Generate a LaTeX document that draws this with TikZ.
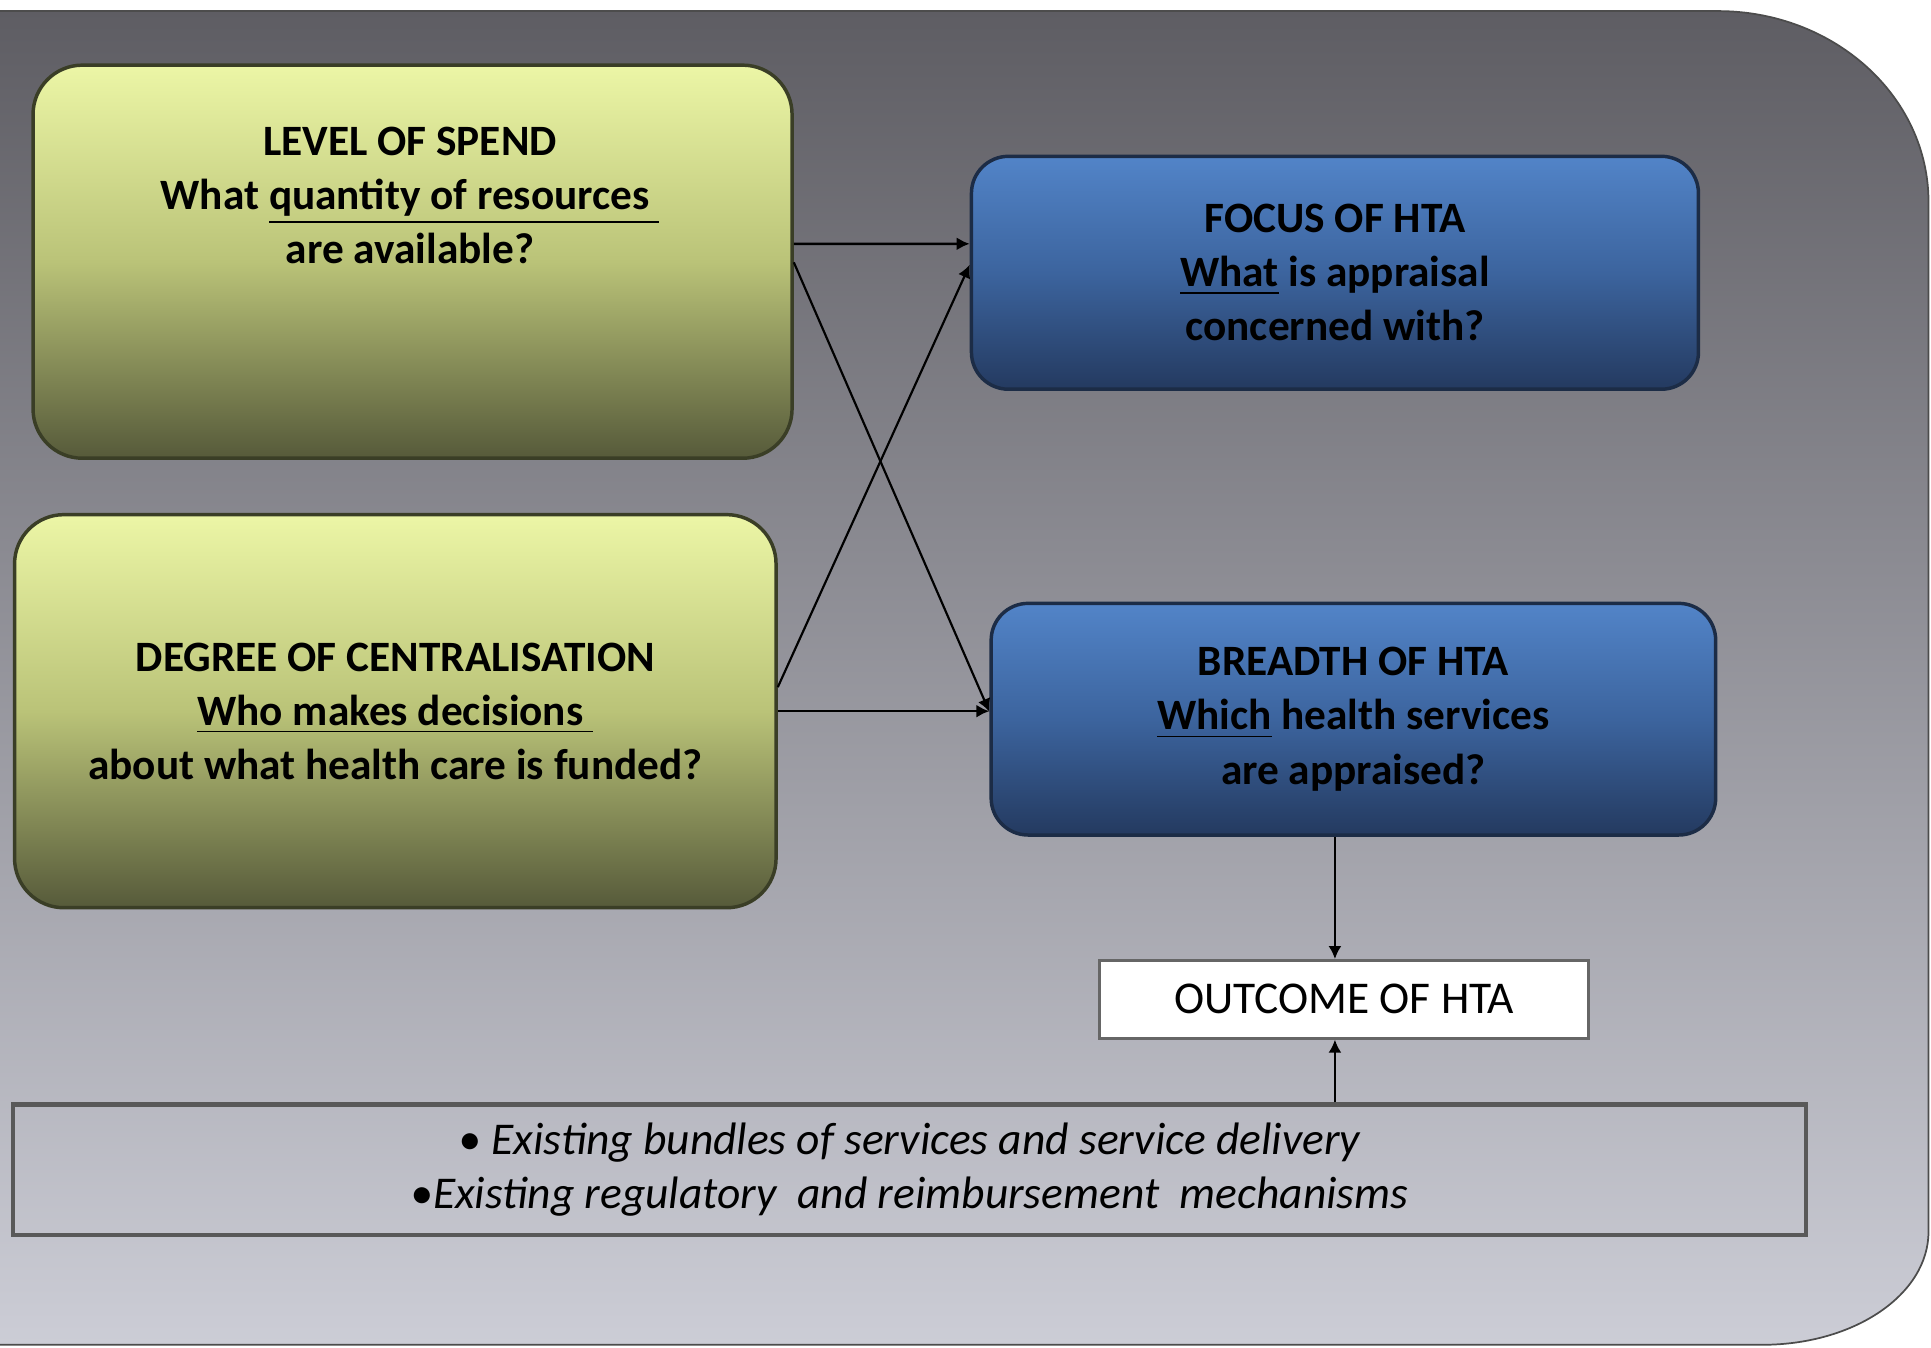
\documentclass[tikz,border=0pt]{standalone}
\usepackage{fontspec}
\setmainfont{Carlito}
\usetikzlibrary{arrows.meta}
\definecolor{bgtop}{RGB}{94,93,99}
\definecolor{bgbottom}{RGB}{204,205,214}
\definecolor{greentop}{RGB}{236,246,166}
\definecolor{greenmid}{RGB}{186,195,120}
\definecolor{greenbot}{RGB}{86,90,58}
\definecolor{greenline}{RGB}{58,62,38}
\definecolor{bluetop}{RGB}{82,132,200}
\definecolor{bluemid}{RGB}{60,100,158}
\definecolor{bluebot}{RGB}{36,58,96}
\definecolor{blueline}{RGB}{28,44,70}
\begin{document}
\begin{tikzpicture}[
			x=0.01cm, y=-0.01cm,
			greenbox/.style={draw=greenline, line width=0.8pt, rounded corners=0.4cm,
				top color=greentop, bottom color=greenbot, middle color=greenmid},
			bluebox/.style={draw=blueline, line width=0.8pt, rounded corners=0.3cm,
				top color=bluetop, bottom color=bluebot, middle color=bluemid},
			boxtext/.style={align=center, font=\fontsize{10}{12.5}\selectfont\bfseries},
			arr/.style={-{Latex[length=3pt,width=3pt]}, line width=0.6pt, black}
		]
		\useasboundingbox (0,0) rectangle (1568,1094);
		\fill[top color=bgtop, bottom color=bgbottom] (-50,9) -- (1395,9)
			.. controls (1489,9) and (1566,78) .. (1566,164) -- (1566,1000)
			.. controls (1566,1051) and (1506,1092) .. (1431,1092) -- (-50,1092) -- cycle;
		\draw[black!70, line width=0.4pt] (-50,9) -- (1395,9)
			.. controls (1489,9) and (1566,78) .. (1566,164) -- (1566,1000)
			.. controls (1566,1051) and (1506,1092) .. (1431,1092) -- (-50,1092);

		\node[greenbox, minimum width=6.16cm, minimum height=3.19cm] (spend) at (335,212.5) {};
		\node[boxtext] (spendtext) at (333,158.5) {LEVEL OF SPEND\\What \underline{quantity of resources\ }\\are available?};
		\node[greenbox, boxtext, minimum width=6.18cm, minimum height=3.19cm] (central) at (321,577.5)
			{DEGREE OF CENTRALISATION\\\underline{Who makes decisions\ }\\about what health care is funded?};
		\node[bluebox, boxtext, minimum width=5.9cm, minimum height=1.89cm] (focus) at (1084,221.5)
			{FOCUS OF HTA\\\underline{What} is appraisal\\concerned with?};
		\node[bluebox, boxtext, minimum width=5.88cm, minimum height=1.88cm] (breadth) at (1099,584)
			{BREADTH OF HTA\\\underline{Which} health services\\are appraised?};
		\node[draw=black!60, line width=0.7pt, fill=white, minimum width=3.97cm, minimum height=0.63cm,
			font=\fontsize{10.5}{12.5}\selectfont] (outcome) at (1091.5,811.5) {OUTCOME OF HTA};
		\node[draw=black!65, line width=1pt, minimum width=14.55cm, minimum height=1.06cm, align=center,
			font=\fontsize{10.5}{12.4}\selectfont\itshape] (context) at (738.5,950)
			{\textbullet\ Existing bundles of services and service delivery\\\textbullet Existing regulatory\ \ and reimbursement\ \ mechanisms};

		\draw[arr] ([yshift=0.145cm]spend.east) -- ([yshift=0.235cm]focus.west);
		\draw[arr, line width=0.5pt] ([yshift=-0.005cm]spend.east) -- ([yshift=0.06cm]breadth.west);
		\draw[arr, line width=0.5pt] ([yshift=0.195cm]central.east) -- ([yshift=0.065cm]focus.west);
		\draw[arr] (central.east) -- (central.east -| breadth.west);
		\coordinate (mid) at ([xshift=-0.15cm]breadth.south);
		\draw[arr, line width=0.5pt] (mid) -- (mid |- outcome.north);
		\draw[arr, line width=0.5pt] (mid |- context.north) -- (mid |- outcome.south);
	\end{tikzpicture}
\end{document}
